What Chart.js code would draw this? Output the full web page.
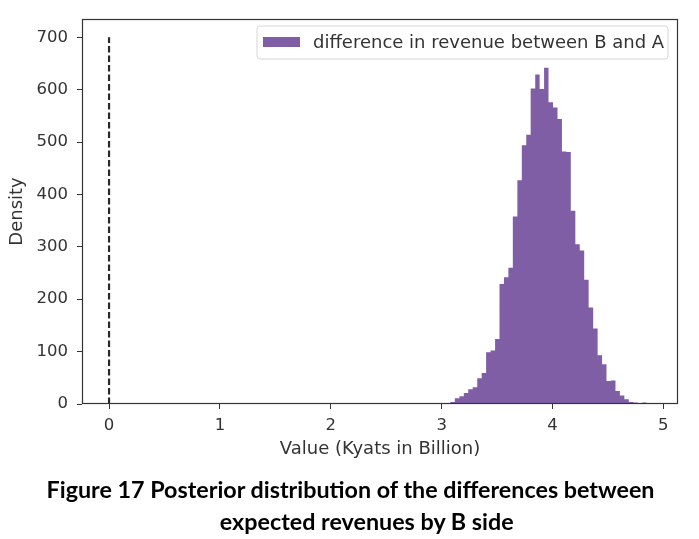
<!DOCTYPE html>
<html><head><meta charset="utf-8">
<script src="https://cdn.jsdelivr.net/npm/chart.js@4/dist/chart.umd.min.js"></script>
<style>
html,body{margin:0;padding:0;background:#fff;}
#wrap{position:relative;width:699px;height:539px;overflow:hidden;background:#fff;}
#c{position:absolute;left:0;top:0;}
.cap{position:absolute;font-family:Lato,"Open Sans",sans-serif;font-weight:700;color:#000;white-space:nowrap;line-height:1.2;}
</style></head><body>
<div id="wrap"><canvas id="c" width="699" height="539"></canvas>
<div class="cap" id="cap1">Figure 17 Posterior distribution of the differences between</div>
<div class="cap" id="cap2">expected revenues by B side</div>
</div>
<script>
// ---- data ----
const binEdges = [3.039, 3.079, 3.119, 3.160, 3.200, 3.240, 3.280, 3.321, 3.361, 3.401,
  3.441, 3.482, 3.522, 3.562, 3.602, 3.642, 3.683, 3.723, 3.763, 3.803,
  3.844, 3.884, 3.924, 3.964, 4.005, 4.045, 4.085, 4.125, 4.165, 4.206,
  4.246, 4.286, 4.326, 4.367, 4.407, 4.447, 4.487, 4.528, 4.568, 4.608,
  4.648, 4.688, 4.729, 4.769, 4.809, 4.849, 4.890];
const binCounts = [1, 4, 11, 15, 21, 28, 32, 49, 59, 99,
  102, 124, 229, 242, 260, 358, 427, 494, 514, 602,
  629, 601, 642, 576, 566, 544, 482, 481, 369, 305,
  293, 237, 184, 144, 93, 76, 44, 45, 25, 16,
  9, 4, 3, 2, 3, 1];
const xTickValues = [0, 1, 2, 3, 4, 5];
const yTickValues = [0, 100, 200, 300, 400, 500, 600, 700];
const zeroLineX = 0;
const zeroLineTop = 700;
const seriesLabel = 'difference in revenue between B and A';
const xTitle = 'Value (Kyats in Billion)';
const yTitle = 'Density';

const purple = '#805ea6';
const tickFont = {family: 'DejaVu Sans', size: 16.5};
const titleFont = {family: 'DejaVu Sans', size: 18};
const textCol = '#333';

// stepped outline points (each bin value held over its own interval)
const histPoints = binCounts.map((c, i) => ({x: binEdges[i], y: c}));
histPoints.push({x: binEdges[binEdges.length - 1], y: binCounts[binCounts.length - 1]});

const framePlugin = {
  id: 'frame',
  afterDatasetsDraw(chart) {
    const {ctx, chartArea: a} = chart;
    ctx.save();
    ctx.strokeStyle = '#333';
    ctx.lineWidth = 1.2;
    ctx.strokeRect(Math.round(a.left) + 0.5, Math.round(a.top) + 0.5,
      Math.round(a.right - a.left) - 1, Math.round(a.bottom - a.top) - 1);
    ctx.restore();
  }
};

const legendPlugin = {
  id: 'mplLegend',
  afterDraw(chart) {
    const {ctx} = chart;
    const ds = chart.data.datasets[0];
    const x = 257, y = 26, w = 411, h = 33, r = 3;
    ctx.save();
    ctx.beginPath();
    ctx.moveTo(x + r, y);
    ctx.arcTo(x + w, y, x + w, y + h, r);
    ctx.arcTo(x + w, y + h, x, y + h, r);
    ctx.arcTo(x, y + h, x, y, r);
    ctx.arcTo(x, y, x + w, y, r);
    ctx.closePath();
    ctx.fillStyle = 'rgba(255,255,255,0.85)';
    ctx.fill();
    ctx.strokeStyle = '#d6d6d6';
    ctx.lineWidth = 1;
    ctx.stroke();
    ctx.fillStyle = ds.backgroundColor;
    ctx.fillRect(263, 37, 37, 10);
    ctx.fillStyle = textCol;
    ctx.font = '18px "DejaVu Sans"';
    ctx.textBaseline = 'middle';
    ctx.textAlign = 'left';
    ctx.fillText(ds.label, 313, 43);
    ctx.restore();
  }
};

new Chart(document.getElementById('c'), {
  type: 'line',
  data: {
    datasets: [
      {
        label: seriesLabel,
        data: histPoints,
        stepped: true,
        fill: 'origin',
        backgroundColor: purple,
        borderColor: 'rgba(0,0,0,0)',
        borderWidth: 1,
        pointRadius: 0,
        tension: 0,
        order: 2
      },
      {
        label: 'zero',
        data: [{x: zeroLineX, y: 0}, {x: zeroLineX, y: zeroLineTop}],
        borderColor: '#2a2a2a',
        borderWidth: 2.2,
        borderDash: [6.5, 3],
        pointRadius: 0,
        fill: false,
        order: 1
      }
    ]
  },
  options: {
    responsive: false,
    animation: false,
    devicePixelRatio: 1,
    layout: {padding: {left: 0, top: 17, right: 21, bottom: 0}},
    scales: {
      x: {
        type: 'linear',
        min: -0.244,
        max: 5.132,
        afterBuildTicks: s => { s.ticks = xTickValues.map(v => ({value: v})); },
        afterFit: s => { s.height = 135; },
        ticks: {font: tickFont, color: textCol, padding: 7, maxRotation: 0, callback: v => String(v)},
        grid: {drawOnChartArea: false, drawTicks: true, tickLength: 5, tickColor: '#333', tickWidth: 1},
        border: {display: false},
        title: {display: true, text: xTitle, font: titleFont, color: textCol, padding: {top: 0, bottom: 79}}
      },
      y: {
        type: 'linear',
        min: 0,
        max: 735,
        afterBuildTicks: s => { s.ticks = yTickValues.map(v => ({value: v})); },
        afterFit: s => { s.width = 82; },
        ticks: {font: tickFont, color: textCol, padding: 9, callback: v => String(v)},
        grid: {drawOnChartArea: false, drawTicks: true, tickLength: 5, tickColor: '#333', tickWidth: 1},
        border: {display: false},
        title: {display: true, text: yTitle, font: titleFont, color: textCol, padding: {top: 7, bottom: 0}}
      }
    },
    plugins: {legend: {display: false}, tooltip: {enabled: false}}
  },
  plugins: [framePlugin, legendPlugin]
});

// caption sizing
(function () {
  const m = document.createElement('canvas').getContext('2d');
  m.font = 'bold 20px Lato';
  const w1 = m.measureText(document.getElementById('cap1').textContent).width;
  const F = 20 * 609 / w1;
  m.font = 'bold ' + F + 'px Lato';
  const c1 = document.getElementById('cap1'), c2 = document.getElementById('cap2');
  const ww1 = m.measureText(c1.textContent).width;
  const ww2 = m.measureText(c2.textContent).width;
  [c1, c2].forEach(c => c.style.fontSize = F + 'px');
  c1.style.left = (351 - ww1 / 2) + 'px';
  c2.style.left = (367 - ww2 / 2) + 'px';
  c1.style.top = (499 - 0.987 * F) + 'px';
  c2.style.top = (531 - 0.987 * F) + 'px';
})();
</script>
</body></html>
